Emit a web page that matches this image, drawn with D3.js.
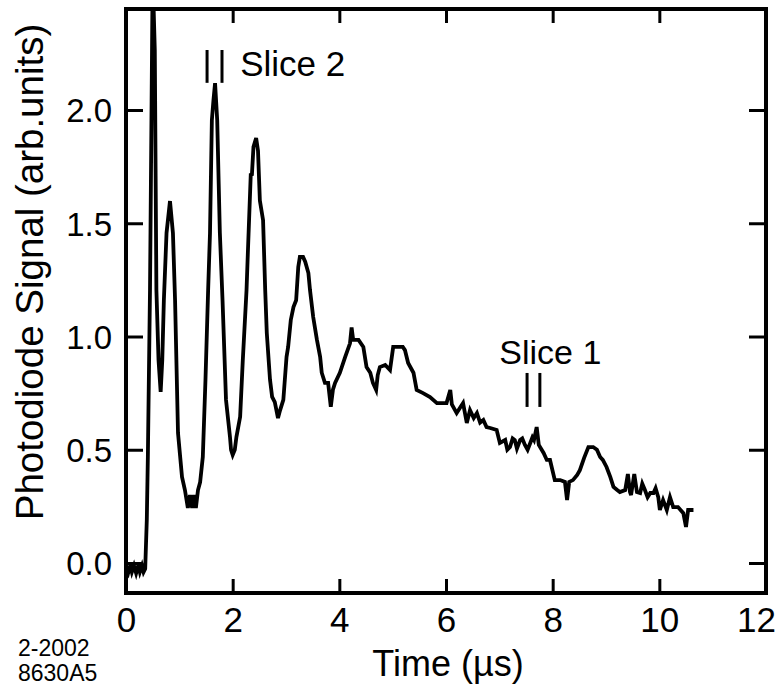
<!DOCTYPE html>
<html><head><meta charset="utf-8">
<script src="https://cdn.jsdelivr.net/npm/d3@7"></script>
<style>body{margin:0;background:#fff}svg{display:block}text{font-family:"Liberation Sans",Arial,sans-serif;fill:#000}</style>
</head><body>
<script>
const timeUs = [0,0.04,0.08,0.11,0.15,0.19,0.23,0.26,0.30,0.33,0.36,0.39,0.41,0.45,0.48,0.5,0.54,0.57,0.61,0.65,0.68,0.71,0.76,0.825,0.88,0.92,0.975,1.05,1.105,1.16,1.2,1.24,1.275,1.31,1.35,1.39,1.44,1.49,1.54,1.575,1.61,1.64,1.67,1.71,1.76,1.81,1.875,1.95,1.97,2.0,2.04,2.07,2.14,2.19,2.26,2.28,2.34,2.36,2.39,2.44,2.475,2.51,2.57,2.61,2.64,2.70,2.74,2.79,2.85,2.89,2.95,3.01,3.04,3.09,3.14,3.19,3.23,3.26,3.32,3.36,3.42,3.45,3.51,3.58,3.64,3.67,3.73,3.79,3.84,3.88,3.92,4.01,4.11,4.20,4.23,4.26,4.36,4.45,4.51,4.58,4.63,4.69,4.72,4.76,4.86,4.95,5.01,5.11,5.19,5.23,5.29,5.39,5.45,5.57,5.70,5.83,6.01,6.08,6.11,6.20,6.32,6.39,6.45,6.52,6.58,6.64,6.70,6.76,6.83,6.95,7.01,7.11,7.15,7.20,7.25,7.29,7.33,7.39,7.43,7.48,7.53,7.58,7.62,7.65,7.70,7.74,7.83,7.89,7.95,8.04,8.14,8.23,8.27,8.31,8.38,8.46,8.51,8.59,8.67,8.76,8.83,8.89,8.94,9.01,9.08,9.14,9.21,9.26,9.36,9.41,9.45,9.47,9.53,9.58,9.64,9.68,9.73,9.78,9.83,9.89,9.93,9.98,10.01,10.07,10.14,10.2,10.26,10.35,10.45,10.50,10.54,10.64];
const signal = [-0.026,-0.045,-0.01,-0.04,-0.012,-0.045,-0.01,-0.04,-0.012,-0.04,-0.026,0.19,0.47,1.205,2.04,2.6,2.265,1.205,0.896,0.755,0.896,1.16,1.457,1.598,1.457,1.16,0.574,0.38,0.322,0.243,0.30,0.243,0.30,0.243,0.322,0.357,0.468,0.808,1.205,1.457,1.956,2.044,2.119,1.956,1.457,1.16,0.72,0.556,0.499,0.477,0.50,0.556,0.645,0.896,1.205,1.338,1.72,1.71,1.837,1.876,1.82,1.60,1.514,1.205,1.015,0.81,0.733,0.71,0.64,0.675,0.72,0.91,0.954,1.073,1.13,1.16,1.307,1.351,1.351,1.33,1.28,1.205,1.086,0.985,0.91,0.84,0.795,0.795,0.69,0.765,0.795,0.84,0.91,0.97,1.04,0.985,0.985,0.954,0.865,0.84,0.795,0.764,0.83,0.865,0.874,0.852,0.954,0.954,0.954,0.94,0.883,0.84,0.764,0.75,0.733,0.706,0.706,0.764,0.70,0.662,0.706,0.618,0.675,0.64,0.662,0.62,0.631,0.60,0.596,0.587,0.53,0.543,0.50,0.512,0.55,0.543,0.505,0.543,0.55,0.521,0.50,0.53,0.555,0.543,0.60,0.521,0.486,0.455,0.455,0.366,0.366,0.358,0.278,0.358,0.366,0.389,0.41,0.464,0.512,0.512,0.50,0.468,0.455,0.424,0.38,0.336,0.322,0.313,0.322,0.393,0.313,0.30,0.393,0.313,0.309,0.35,0.322,0.29,0.309,0.309,0.33,0.291,0.234,0.278,0.234,0.291,0.247,0.247,0.22,0.159,0.234,0.234];
const xTicks = [0,2,4,6,8,10,12];
const yTicks = [0,0.5,1.0,1.5,2.0];
const sliceLabels = ["Slice 2","Slice 1"];
const sliceTimes = [[1.52,1.80],[7.52,7.76]];
const sliceLevels = [[2.12,2.265],[0.689,0.839]];

const W=777,H=691;
const svg=d3.select("body").append("svg").attr("width",W).attr("height",H);
const x=d3.scaleLinear().domain([0,12]).range([126,766]);
const y=d3.scaleLinear().domain([-0.1325,2.446]).range([593,9]);
const data=timeUs.map((t,i)=>({t,v:signal[i]}));

svg.append("clipPath").attr("id","c").append("rect")
  .attr("x",x(0)).attr("y",y(2.446)).attr("width",x(12)-x(0)).attr("height",y(-0.1325)-y(2.446));

svg.append("path").datum(data).attr("clip-path","url(#c)")
  .attr("fill","none").attr("stroke","#000").attr("stroke-width",3.8).attr("stroke-linejoin","miter")
  .attr("d",d3.line().x(d=>x(d.t)).y(d=>y(d.v)));

const fmt=d3.format(".1f");
const gBottom=svg.append("g").attr("transform",`translate(0,${y(-0.1325)})`)
  .call(d3.axisBottom(x).tickValues(xTicks).tickSize(-14).tickPadding(14).tickFormat(d3.format("d")));
const gTop=svg.append("g").attr("transform",`translate(0,${y(2.446)})`)
  .call(d3.axisTop(x).tickValues(xTicks).tickSize(-14).tickFormat(""));
const gLeft=svg.append("g").attr("transform",`translate(${x(0)},0)`)
  .call(d3.axisLeft(y).tickValues(yTicks).tickSize(-17).tickPadding(14).tickFormat(fmt));
const gRight=svg.append("g").attr("transform",`translate(${x(12)},0)`)
  .call(d3.axisRight(y).tickValues(yTicks).tickSize(-17).tickFormat(""));
[gBottom,gTop,gLeft,gRight].forEach(g=>{
  g.select(".domain").remove();
  g.selectAll(".tick line").attr("stroke","#000").attr("stroke-width",3);
  g.selectAll("text").attr("font-family",'"Liberation Sans",Arial,sans-serif').attr("fill","#000");
});
gLeft.selectAll("text").attr("font-size",33).attr("dy","0.36em");
gBottom.selectAll("text").attr("font-size",35).attr("dy","0.71em")
  .attr("dx",d=>d===12?-10:0);

svg.append("rect").attr("x",x(0)).attr("y",y(2.446)).attr("width",x(12)-x(0)).attr("height",y(-0.1325)-y(2.446))
  .attr("fill","none").attr("stroke","#000").attr("stroke-width",4);

sliceTimes.forEach((ts,i)=>{
  ts.forEach(t=>svg.append("line").attr("x1",x(t)).attr("x2",x(t))
    .attr("y1",y(sliceLevels[i][0])).attr("y2",y(sliceLevels[i][1])).attr("stroke","#000").attr("stroke-width",3));
});
svg.append("text").attr("x",x(2.14)).attr("y",y(2.12)-7).attr("font-size",35).text(sliceLabels[0]);
svg.append("text").attr("x",x(7.0)).attr("y",y(0.88)).attr("font-size",34).text(sliceLabels[1]);

svg.append("text").attr("x",448).attr("y",676).attr("text-anchor","middle").attr("font-size",36).text("Time (µs)");
svg.append("text").attr("transform","translate(43,272) rotate(-90)").attr("text-anchor","middle").attr("font-size",38.5)
  .text("Photodiode Signal (arb.units)");
svg.append("text").attr("x",18).attr("y",656).attr("font-size",23).text("2-2002");
svg.append("text").attr("x",18).attr("y",681).attr("font-size",23).text("8630A5");
</script>
</body></html>
